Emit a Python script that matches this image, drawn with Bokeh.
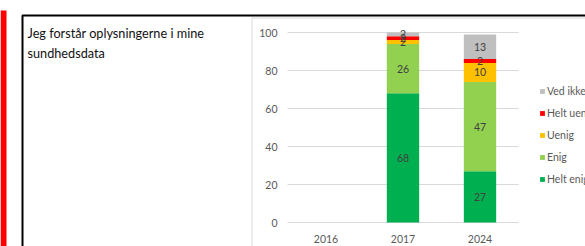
from bokeh.plotting import figure
from bokeh.models import (Range1d, FixedTicker, BoxAnnotation, Label,
                          Legend, LegendItem, ColumnDataSource)
from bokeh.embed import file_html
from bokeh.resources import INLINE
from bokeh.core.properties import value

# ---------------- data ----------------
years = ["2016", "2017", "2024"]
series = ["Helt enig", "Enig", "Uenig", "Helt uenig", "Ved ikke"]
helt_enig = [float("nan"), 68, 27]
enig = [float("nan"), 26, 47]
uenig = [float("nan"), 2, 10]
helt_uenig = [float("nan"), 2, 2]
ved_ikke = [float("nan"), 2, 13]
colors = ["#00B050", "#92D050", "#FFC000", "#FF0000", "#BFBFBF"]
y_ticks = [0, 20, 40, 60, 80, 100]
title_lines = ["Jeg forstår oplysningerne i mine", "sundhedsdata"]

FONT = "Lato"

# ---------------- layout constants (pixels) ----------------
W, H = 585, 246
PLOT_L, CAT_W = 287, 77          # left of plot area, width of one category
Y0_PX, PX_PER_UNIT = 222, 1.9    # pixel row of value 0, pixels per value unit

pos = list(range(1, len(years) + 1))
x_start = 0.5 - PLOT_L / CAT_W
x_end = x_start + W / CAT_W
y_start = -(H - Y0_PX) / PX_PER_UNIT
y_end = Y0_PX / PX_PER_UNIT

p = figure(x_range=Range1d(x_start, x_end), y_range=Range1d(y_start, y_end),
           width=W, height=H, output_backend="svg", toolbar_location=None,
           min_border=0, x_axis_location="below", y_axis_location="left")
p.outline_line_color = None
p.background_fill_color = "white"
p.border_fill_color = "white"
p.xgrid.visible = False
p.ygrid.visible = False

def dx(px):
    return x_start + px / CAT_W
def dy(py):
    return (Y0_PX - py) / PX_PER_UNIT

# decorations: red strip, cell border, chart border, title
p.add_layout(BoxAnnotation(left=dx(0), right=dx(6), top=dy(10), bottom=dy(400),
                           fill_color="#FF0000", fill_alpha=1, line_color=None, level="underlay"))
p.add_layout(BoxAnnotation(left=dx(22), top=dy(15), right=dx(900), bottom=dy(400),
                           fill_alpha=0, line_color="black", line_alpha=1, line_width=2,
                           level="underlay"))
p.add_layout(BoxAnnotation(left=dx(251.5), top=dy(17.5), right=dx(900), bottom=dy(400),
                           fill_alpha=0, line_color="#D9D9D9", line_alpha=1, line_width=1,
                           level="underlay"))
for t, base_y in zip(title_lines, [32, 52]):
    p.add_layout(Label(x=dx(27), y=dy(base_y), text=t, text_baseline="alphabetic",
                       text_align="left", text_font=FONT, text_font_size="12.7px",
                       text_color="#111111"))

# gridlines over the plot area only
p.segment(x0=[0.5] * len(y_ticks), x1=[len(years) + 0.5] * len(y_ticks),
          y0=y_ticks, y1=y_ticks, line_color="#D9D9D9", line_width=1)

src = ColumnDataSource(dict(x=pos, **{s: v for s, v in zip(series, [helt_enig, enig, uenig, helt_uenig, ved_ikke])}))
rends = p.vbar_stack(series, x="x", width=0.42, color=colors, line_color=None, source=src)

# data labels
lx, ly, lt = [], [], []
for i, xv in enumerate(pos):
    base = 0
    for vals in [helt_enig, enig, uenig, helt_uenig, ved_ikke]:
        v = vals[i]
        if v == v and v > 0:
            lx.append(xv); ly.append(base + v / 2); lt.append(str(v))
            base += v
p.text(x="x", y="y", text="t", source=ColumnDataSource(dict(x=lx, y=ly, t=lt)),
       text_align="center", text_baseline="middle", text_font=value(FONT),
       text_font_size="10.5px", text_color="#404040")

# axes drawn at fixed positions inside the frame
yax, xax = p.yaxis[0], p.xaxis[0]
yax.fixed_location = 0.5
xax.fixed_location = 0
yax.ticker = FixedTicker(ticks=y_ticks)
xax.ticker = FixedTicker(ticks=pos)
xax.major_label_overrides = {k: v for k, v in zip(pos, years)}
for ax in (xax, yax):
    ax.axis_line_color = None
    ax.major_tick_line_color = None
    ax.minor_tick_line_color = None
    ax.major_tick_out = 0
    ax.major_tick_in = 0
    ax.minor_tick_out = 0
    ax.minor_tick_in = 0
    ax.major_label_text_font = FONT
    ax.major_label_text_font_size = "10.5px"
    ax.major_label_text_color = "#595959"
yax.major_label_standoff = 10
xax.major_label_standoff = 12

# legend
items = [LegendItem(label=s, renderers=[r]) for s, r in zip(series, rends)][::-1]
legend = Legend(items=items, location=(539, 61), orientation="vertical",
                glyph_width=6, glyph_height=6, label_height=13, spacing=9,
                padding=0, margin=0, border_line_color=None, background_fill_alpha=0,
                label_text_font=FONT, label_text_font_size="10.5px",
                label_text_color="#595959", label_standoff=2)
p.add_layout(legend)

open("out.html", "w").write(file_html(p, INLINE))
